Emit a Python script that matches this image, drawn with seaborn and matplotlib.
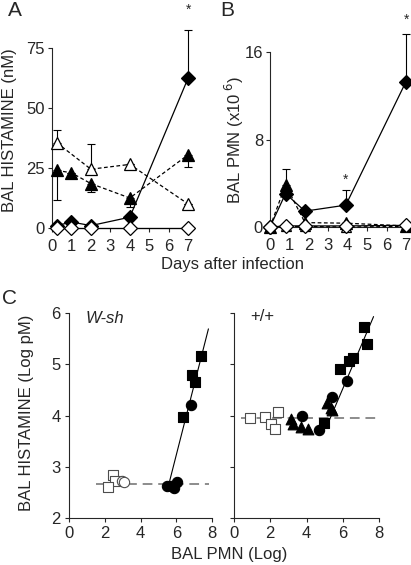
import matplotlib
matplotlib.use("Agg")
import matplotlib.pyplot as plt
import seaborn as sns
import numpy as np

# ---- panel A: BAL histamine (nM) vs day
days_a = [0.25, 1, 2, 4, 7]
days_a_open_tri = [0.25, 2, 4, 7]
hist_fill_dia = [1, 2.5, 1, 4.5, 62.5]
hist_open_dia = [0, 0, 0, 0, 0]
hist_fill_tri = [24, 23, 18.5, 12.5, 30.5]
hist_open_tri = [35.5, 24.5, 26.5, 10]
hist_fill_dia_up = [0, 0, 0, 0, 20]
hist_fill_tri_dn = [12.3, 0, 3.6, 3.6, 5]
hist_open_tri_up = [5.5, 10.5, 0, 0]

# ---- panel B: BAL PMN (x10^6) vs day
days_b = [0, 0.8, 1.8, 3.9, 7]
pmn_fill_dia = [0, 3.05, 1.45, 2.0, 13.3]
pmn_open_dia = [0, 0.1, 0.1, 0.1, 0.15]
pmn_fill_tri = [0, 3.85, 0.4, 0.35, 0.1]
pmn_open_tri = [0, 0.05, 0.05, 0.0, 0.05]
pmn_fill_dia_up = [0, 0, 0, 1.4, 4.3]
pmn_fill_tri_up = [0, 1.45, 0, 0, 0]

# ---- panel C: log histamine vs log PMN
wsh_osq_x = [2.45, 2.55, 2.2]
wsh_osq_y = [2.83, 2.73, 2.6]
wsh_oci_x = [2.95, 3.05]
wsh_oci_y = [2.72, 2.7]
wsh_fci_x = [5.5, 5.7, 5.9, 6.05, 6.8]
wsh_fci_y = [2.63, 2.62, 2.59, 2.71, 4.21]
wsh_fsq_x = [6.4, 6.9, 7.05, 7.4]
wsh_fsq_y = [3.98, 4.8, 4.66, 5.17]
wsh_fit_x = [5.6, 7.8]
wsh_fit_y = [2.68, 5.69]
wsh_base_x = [1.5, 7.85]
wsh_base_y = [2.66, 2.66]

wt_osq_x = [0.9, 1.7, 2.05, 2.25, 2.45]
wt_osq_y = [3.95, 3.98, 3.84, 3.73, 4.06]
wt_ftr_x = [3.15, 3.25, 3.7, 4.1, 5.12, 5.36, 5.4]
wt_ftr_y = [3.93, 3.84, 3.78, 3.74, 4.24, 4.15, 4.1]
wt_fci_x = [3.74, 4.71, 5.43, 6.22]
wt_fci_y = [4.0, 3.72, 4.36, 4.67]
wt_fsq_x = [4.99, 5.85, 6.35, 6.55, 7.15, 7.35]
wt_fsq_y = [3.85, 4.91, 5.07, 5.12, 5.73, 5.4]
wt_fit_x = [5.19, 7.7]
wt_fit_y = [3.85, 5.93]
wt_base_x = [0.4, 7.9]
wt_base_y = [3.95, 3.95]

sns.set_style("ticks")
plt.rcParams['font.family'] = ['Liberation Sans', 'DejaVu Sans']
plt.rcParams['axes.linewidth'] = 0.8
plt.rcParams['xtick.major.size'] = 3
plt.rcParams['ytick.major.size'] = 3
plt.rcParams['xtick.major.width'] = 0.8
plt.rcParams['ytick.major.width'] = 0.8

W, H = 411, 565
fig = plt.figure(figsize=(W / 100, H / 100), dpi=100)


def box(l, t, r, b):
    return [l / W, 1 - b / H, (r - l) / W, (b - t) / H]


axA = fig.add_axes(box(52, 48, 193, 228))
axB = fig.add_axes(box(270, 52, 408, 227))
axC1 = fig.add_axes(box(69, 313, 212, 518))
axC2 = fig.add_axes(box(234, 313, 379, 518))


def series(ax, x, y, marker, filled, ls, ms, z):
    sns.lineplot(x=x, y=y, ax=ax, color='black', linestyle=ls, linewidth=0.9,
                 marker=marker, markersize=ms, markeredgewidth=0.9,
                 markeredgecolor='black',
                 markerfacecolor='black' if filled else 'white',
                 clip_on=False, zorder=z, estimator=None, sort=False)


# panel A
axA.errorbar(days_a, hist_fill_tri, yerr=[hist_fill_tri_dn, [0] * 5], fmt='none',
             ecolor='black', elinewidth=0.8, capsize=3, capthick=0.8, clip_on=False, zorder=2)
axA.errorbar(days_a_open_tri, hist_open_tri, yerr=[[0] * 4, hist_open_tri_up], fmt='none',
             ecolor='black', elinewidth=0.8, capsize=3, capthick=0.8, clip_on=False, zorder=2)
axA.errorbar(days_a, hist_fill_dia, yerr=[[0] * 5, hist_fill_dia_up], fmt='none',
             ecolor='black', elinewidth=0.8, capsize=3, capthick=0.8, clip_on=False, zorder=2)
series(axA, days_a_open_tri, hist_open_tri, '^', False, (0, (3, 2)), 8.5, 3)
series(axA, days_a, hist_fill_tri, '^', True, (0, (3, 2)), 8.5, 4)
series(axA, days_a, hist_fill_dia, 'D', True, '-', 7.5, 5)
series(axA, days_a, hist_open_dia, 'D', False, '-', 7.5, 6)
axA.set_xlim(0, 7.25)
axA.set_ylim(0, 75)
axA.set_xticks(range(8))
axA.set_yticks([0, 25, 50, 75])
axA.text(7, 88, '*', ha='center', va='bottom', fontsize=10, clip_on=False)

# panel B
axB.errorbar(days_b, pmn_fill_tri, yerr=[[0] * 5, pmn_fill_tri_up], fmt='none',
             ecolor='black', elinewidth=0.8, capsize=3, capthick=0.8, clip_on=False, zorder=2)
axB.errorbar(days_b, pmn_fill_dia, yerr=[[0] * 5, pmn_fill_dia_up], fmt='none',
             ecolor='black', elinewidth=0.8, capsize=3, capthick=0.8, clip_on=False, zorder=2)
series(axB, days_b, pmn_open_tri, '^', False, (0, (3, 2)), 7, 3)
series(axB, days_b, pmn_fill_tri, '^', True, (0, (3, 2)), 8.5, 4)
series(axB, days_b, pmn_fill_dia, 'D', True, '-', 7.5, 5)
series(axB, days_b, pmn_open_dia, 'D', False, '-', 7.5, 6)
axB.set_xlim(0, 7.1)
axB.set_ylim(0, 16)
axB.set_xticks(range(8))
axB.set_yticks([0, 8, 16])
axB.text(3.9, 3.7, '*', ha='center', va='bottom', fontsize=10, clip_on=False)
axB.text(7, 18.3, '*', ha='center', va='bottom', fontsize=10, clip_on=False)

for ax in (axA, axB):
    sns.despine(ax=ax)
    ax.tick_params(labelsize=12, pad=2)
    ax.tick_params(axis='x', pad=5)


# panel C
def pts(ax, x, y, marker, filled, s):
    sns.scatterplot(x=x, y=y, ax=ax, marker=marker, s=s,
                    color='black' if filled else 'white',
                    edgecolor='black' if filled else '0.3',
                    linewidth=0.8, clip_on=False, zorder=4)


axC1.plot(wsh_base_x, wsh_base_y, color='0.55', linestyle=(0, (5, 3)), linewidth=1.4, zorder=2)
axC1.plot(wsh_fit_x, wsh_fit_y, color='black', linewidth=0.8, zorder=3)
pts(axC1, wsh_osq_x, wsh_osq_y, 's', False, 45)
pts(axC1, wsh_oci_x, wsh_oci_y, 'o', False, 55)
pts(axC1, wsh_fci_x, wsh_fci_y, 'o', True, 55)
pts(axC1, wsh_fsq_x, wsh_fsq_y, 's', True, 45)
axC1.text(0.9, 5.9, 'W-sh', style='italic', fontsize=12, va='center')

axC2.plot(wt_base_x, wt_base_y, color='0.55', linestyle=(0, (5, 3)), linewidth=1.4, zorder=2)
axC2.plot(wt_fit_x, wt_fit_y, color='black', linewidth=0.8, zorder=3)
pts(axC2, wt_osq_x, wt_osq_y, 's', False, 45)
pts(axC2, wt_ftr_x, wt_ftr_y, '^', True, 60)
pts(axC2, wt_fci_x, wt_fci_y, 'o', True, 55)
pts(axC2, wt_fsq_x, wt_fsq_y, 's', True, 45)
axC2.text(0.92, 5.93, '+/+', fontsize=12, va='center')

for ax in (axC1, axC2):
    ax.set_xlim(0, 8)
    ax.set_ylim(2, 6)
    ax.set_xticks([0, 2, 4, 6, 8])
    ax.set_yticks([2, 3, 4, 5, 6])
    sns.despine(ax=ax)
    ax.tick_params(labelsize=12, pad=3)
axC2.set_yticklabels([])

# labels
fig.text(8 / W, 1 - 11 / H, 'A', fontsize=15, va='center', ha='left')
fig.text(220 / W, 1 - 11 / H, 'B', fontsize=15, va='center', ha='left')
fig.text(2 / W, 1 - 298 / H, 'C', fontsize=15, va='center', ha='left')
fig.text(10 / W, 1 - 130 / H, 'BAL HISTAMINE (nM)', rotation=90, fontsize=12, ha='center', va='center')
fig.text(234 / W, 1 - 140 / H, 'BAL PMN (x10$^{\\ 6}$)', rotation=90, fontsize=12, ha='center', va='center')
fig.text(26 / W, 1 - 413 / H, 'BAL HISTAMINE (Log pM)', rotation=90, fontsize=12, ha='center', va='center')
fig.text(232 / W, 1 - 264 / H, 'Days after infection', fontsize=12, ha='center', va='center')
fig.text(229 / W, 1 - 555 / H, 'BAL PMN (Log)', fontsize=12, ha='center', va='center')

fig.savefig('out.png', dpi=100)
